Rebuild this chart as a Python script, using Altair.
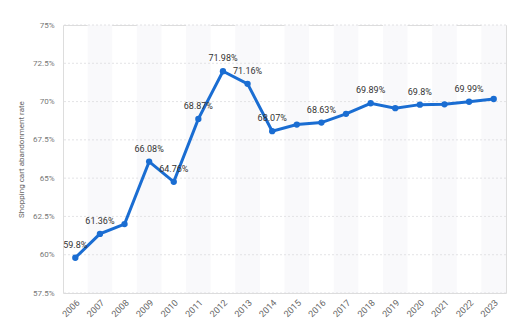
import altair as alt
import pandas as pd

years = [str(y) for y in range(2006, 2024)]
rates = [59.8, 61.36, 62.0, 66.08, 64.76, 68.87, 71.98, 71.16, 68.07, 68.5,
         68.63, 69.2, 69.89, 69.57, 69.8, 69.82, 69.99, 70.17]
labels = ["59.8%", "61.36%", None, "66.08%", "64.76%", "68.87%", "71.98%", "71.16%", "68.07%", None,
          "68.63%", None, "69.89%", None, "69.8%", None, "69.99%", None]
shaded = [i % 2 == 1 for i in range(len(years))]
yticks = [57.5, 60, 62.5, 65, 67.5, 70, 72.5, 75]

df = pd.DataFrame({"year": years, "rate": rates, "label": labels, "shaded": shaded})
grid_df = pd.DataFrame({"rate": yticks})

W, H = 443, 268
FONT = "Roboto"
BLUE = "#1a6dd2"

xscale = alt.Scale(type="band", domain=years, paddingInner=0, paddingOuter=0)
yscale = alt.Scale(domain=[57.5, 75], nice=False, zero=False)

xaxis = alt.Axis(labelAngle=-45, labelFontSize=9, labelColor="#666", labelFont=FONT,
                 domain=False, ticks=False, grid=False, title=None, labelPadding=5)
yaxis = alt.Axis(values=yticks,
                 labelExpr="datum.value + '%'", labelFontSize=8, labelColor="#777",
                 labelFont=FONT, domain=False, ticks=False, grid=False,
                 title="Shopping cart abandonment rate", titleFontSize=8,
                 titleColor="#666", titleFont=FONT, titleFontWeight="normal",
                 titlePadding=7, labelPadding=9)

bands = alt.Chart(df).transform_filter("datum.shaded").mark_rect(color="#f9f9fb").encode(
    x=alt.X("year:O", scale=xscale, axis=xaxis),
    y=alt.value(0), y2=alt.value(H),
)

grid = alt.Chart(grid_df).mark_rule(color="#dcdce0", strokeDash=[2, 2], strokeWidth=0.8).encode(
    y=alt.Y("rate:Q", scale=yscale, axis=yaxis),
)

base = alt.Chart(df).encode(
    x=alt.X("year:O", scale=xscale, axis=xaxis),
    y=alt.Y("rate:Q", scale=yscale, axis=yaxis),
)

line = base.mark_line(color=BLUE, strokeWidth=3)
pts = base.mark_point(filled=True, color=BLUE, size=40, opacity=1)
txt = base.transform_filter("datum.label != null").mark_text(
    dy=-13, fontSize=9, font=FONT, color="#333").encode(text="label:N")

chart = alt.layer(bands, grid, line, pts, txt).properties(
    width=W, height=H,
    autosize=alt.AutoSizeParams(type="none"),
    padding={"left": 63, "top": 25, "right": 6, "bottom": 42},
).configure_view(stroke=None).configure(background="white")

chart.save("out.html", embed_options={"renderer": "svg", "actions": False})
